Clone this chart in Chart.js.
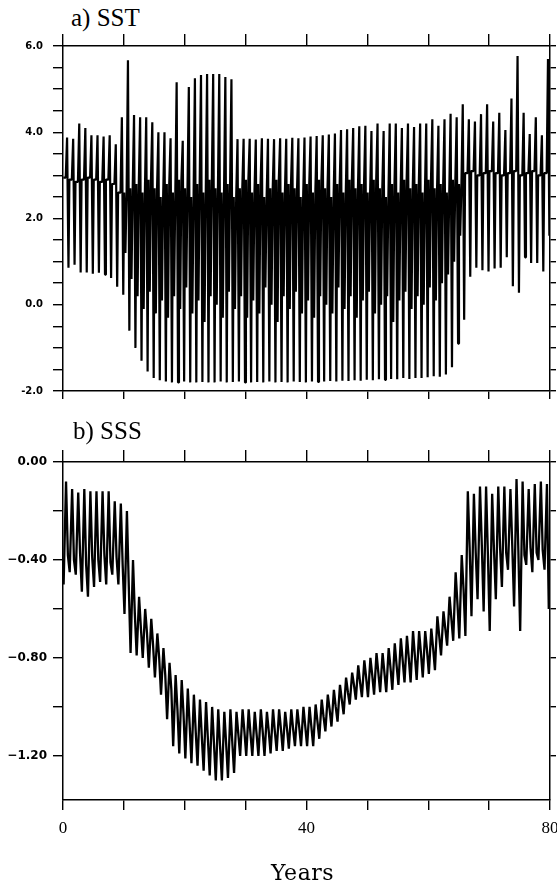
<!DOCTYPE html>
<html>
<head>
<meta charset="utf-8">
<script src="https://cdn.jsdelivr.net/npm/chart.js@4.4.1/dist/chart.umd.min.js"></script>
<style>
  body { margin: 0; background: #fff; width: 557px; height: 885px; position: relative; overflow: hidden; }
  canvas { position: absolute; left: 0; }
  .lbl { position: absolute; color: #000; white-space: nowrap; }
</style>
</head>
<body>
<div class="lbl" style="left:71px;top:5px;font:25px/1 'Liberation Serif'">a) SST</div>
<canvas id="sstChart" width="557" height="420" style="top:0"></canvas>
<div class="lbl" style="left:73px;top:418px;font:25px/1 'Liberation Serif'">b) SSS</div>
<canvas id="sssChart" width="557" height="465" style="top:420px"></canvas>
<div class="lbl" style="left:271px;top:862px;font:22px/1 'DejaVu Serif';letter-spacing:0.5px">Years</div>
<script>
// x axis ticks (years)
var yearTicks = [0, 10, 20, 30, 40, 50, 60, 70, 80];
var yearLabels = [0, 40, 80];

// y axis ticks
var sstTicks = [-2, -1.5, -1, -0.5, 0, 0.5, 1, 1.5, 2, 2.5, 3, 3.5, 4, 4.5, 5, 5.5, 6];
var sstLabels = [-2, 0, 2, 4, 6];
var sssTicks = [-1.2, -1.0, -0.8, -0.6, -0.4, -0.2, 0];
var sssLabels = [-1.2, -0.8, -0.4, 0];

// SST: yearly summer peak and winter trough
var sstHigh = [3.88, 3.85, 4.2, 4.1, 3.93, 3.93, 3.9, 3.93, 3.72, 4.35,
  5.67, 4.4, 4.35, 4.35, 4.23, 4.0, 4.0, 3.86, 5.16, 3.8,
  5.05, 5.25, 5.33, 5.35, 5.35, 5.35, 5.28, 5.23, 3.84, 3.85,
  3.85, 3.83, 3.86, 3.85, 3.84, 3.86, 3.85, 3.87, 3.86, 3.88,
  3.9, 3.91, 3.93, 3.95, 3.97, 4.05, 4.07, 4.1, 4.14, 4.15,
  4.03, 4.2, 4.03, 4.2, 4.2, 4.1, 4.2, 4.12, 4.2, 4.2,
  4.3, 4.15, 4.3, 4.43, 4.35, 4.65, 4.3, 4.25, 4.42, 4.65,
  4.25, 4.45, 4.05, 4.78, 5.77, 4.45, 3.96, 4.35, 3.93, 5.7];
var sstLow = [0.86, 0.93, 0.75, 0.75, 0.72, 0.74, 0.7, 0.62, 0.42, 0.23,
  -0.6, -1.0, -1.3, -1.55, -1.7, -1.75, -1.78, -1.8, -1.8, -1.78,
  -1.8, -1.8, -1.79, -1.8, -1.8, -1.78, -1.8, -1.79, -1.78, -1.8,
  -1.8, -1.79, -1.8, -1.78, -1.8, -1.79, -1.8, -1.78, -1.79, -1.8,
  -1.78, -1.79, -1.78, -1.77, -1.78, -1.76, -1.77, -1.75, -1.76, -1.74,
  -1.75, -1.73, -1.74, -1.72, -1.73, -1.7, -1.72, -1.7, -1.7, -1.68,
  -1.66, -1.67, -1.62, -1.45, -0.9, -0.35, 0.65, 0.86, 0.8, 0.77,
  0.84, 0.86, 1.1, 0.43, 0.28, 1.1, 0.97, 0.97, 0.77, 1.6];
// spring level and the dip inside it
var sstBase = [2.95, 2.9, 2.85, 2.9, 2.95, 2.9, 2.85, 2.9, 2.8, 2.6,
  2.6, 2.7, 2.8, 2.6, 2.9, 2.7, 2.5, 2.8, 2.6, 2.9,
  2.7, 2.5, 2.8, 2.6, 2.9, 2.7, 2.6, 2.8, 2.5, 2.7,
  2.9, 2.6, 2.8, 2.5, 2.7, 2.9, 2.6, 2.8, 2.7, 2.5,
  2.8, 2.6, 2.9, 2.7, 2.5, 2.8, 2.6, 2.9, 2.7, 2.8,
  2.6, 2.9, 2.7, 2.5, 2.8, 2.6, 2.9, 2.7, 2.8, 2.6,
  2.9, 2.7, 2.8, 2.6, 2.9, 2.8, 3.05, 3.1, 3.0, 3.05,
  3.1, 3.05, 3.0, 3.05, 3.1, 3.0, 3.05, 3.1, 3.0, 3.05];
var sstDip = [2.95, 2.9, 2.85, 2.9, 2.95, 2.9, 2.85, 2.9, 2.8, 2.6,
  1.2, 0.6, 0.2, -0.1, 0.3, -0.2, 0.1, -0.3, 0.2, -0.1,
  0.4, -0.2, 0.1, -0.4, 0.2, 0.0, -0.3, 0.3, -0.1, 0.2,
  -0.3, 0.1, -0.2, 0.4, 0.0, -0.4, 0.2, -0.1, 0.3, -0.2,
  0.1, -0.3, 0.2, 0.0, -0.2, 0.4, -0.1, 0.2, -0.3, 0.1,
  0.3, -0.2, 0.0, 0.2, -0.4, 0.1, 0.3, -0.1, 0.2, 0.0,
  0.4, 0.1, 0.5, 0.7, 1.0, 1.6, 3.05, 3.1, 3.0, 3.05,
  3.1, 3.05, 3.0, 3.05, 3.1, 3.0, 3.05, 3.1, 3.0, 3.05];

// SSS: yearly trough, peak and the level it settles back to
var sssLow = [-0.5, -0.45, -0.46, -0.53, -0.55, -0.51, -0.49, -0.5, -0.46, -0.5,
  -0.62, -0.78, -0.79, -0.8, -0.84, -0.88, -0.95, -1.05, -1.16, -1.19,
  -1.21, -1.23, -1.24, -1.26, -1.28, -1.3, -1.3, -1.29, -1.27, -1.2,
  -1.2, -1.2, -1.2, -1.2, -1.19, -1.18, -1.18, -1.17, -1.16, -1.16,
  -1.16, -1.16, -1.13, -1.1, -1.08, -1.06, -1.03, -0.99, -0.97, -0.96,
  -0.96, -0.95, -0.94, -0.94, -0.93, -0.91, -0.9, -0.9, -0.89, -0.88,
  -0.865, -0.85, -0.79, -0.75, -0.73, -0.72, -0.71, -0.63, -0.56, -0.61,
  -0.69, -0.56, -0.51, -0.44, -0.59, -0.69, -0.42, -0.45, -0.4, -0.44];
var sssHigh = [-0.08, -0.11, -0.125, -0.11, -0.12, -0.12, -0.12, -0.12, -0.16, -0.17,
  -0.2, -0.4, -0.55, -0.6, -0.64, -0.7, -0.76, -0.82, -0.87, -0.89,
  -0.925, -0.95, -0.97, -0.98, -1.0, -1.01, -1.02, -1.01, -1.02, -1.01,
  -1.01, -1.02, -1.01, -1.02, -1.01, -1.01, -1.02, -1.01, -1.01, -1.0,
  -1.0, -0.99, -0.97, -0.95, -0.93, -0.91, -0.88, -0.86, -0.83, -0.81,
  -0.8, -0.78, -0.78, -0.76, -0.74, -0.72, -0.71, -0.69, -0.69, -0.69,
  -0.68, -0.63, -0.61, -0.55, -0.45, -0.38, -0.12, -0.13, -0.1, -0.1,
  -0.13, -0.1, -0.1, -0.11, -0.07, -0.08, -0.11, -0.09, -0.08, -0.09];
var sssMid = [-0.38, -0.4, -0.37, -0.42, -0.39, -0.4, -0.38, -0.41, -0.39, -0.42,
  -0.5, -0.62, -0.68, -0.7, -0.75, -0.8, -0.87, -0.93, -1.01, -1.03,
  -1.07, -1.1, -1.12, -1.13, -1.15, -1.16, -1.15, -1.14, -1.11, -1.1,
  -1.11, -1.11, -1.1, -1.1, -1.1, -1.09, -1.09, -1.09, -1.08, -1.08,
  -1.08, -1.06, -1.04, -1.01, -1.0, -0.97, -0.94, -0.91, -0.9, -0.88,
  -0.87, -0.86, -0.86, -0.84, -0.83, -0.81, -0.8, -0.79, -0.78, -0.77,
  -0.76, -0.71, -0.68, -0.64, -0.58, -0.52, -0.35, -0.37, -0.34, -0.38,
  -0.36, -0.35, -0.37, -0.34, -0.36, -0.38, -0.35, -0.37, -0.36, -0.6];

// each model year: spring level with its dip, summer peak, winter trough
var sstPoints = [];
sstHigh.forEach(function (h, i) {
  sstPoints.push({ x: i + 0.05, y: sstBase[i] });
  sstPoints.push({ x: i + 0.25, y: sstDip[i] });
  sstPoints.push({ x: i + 0.45, y: sstBase[i] });
  sstPoints.push({ x: i + 0.67, y: h });
  sstPoints.push({ x: i + 0.9, y: sstLow[i] });
});

var sssPoints = [];
sssHigh.forEach(function (h, i) {
  sssPoints.push({ x: i + 0.1, y: sssLow[i] });
  sssPoints.push({ x: i + 0.5, y: h });
  sssPoints.push({ x: i + 0.8, y: sssMid[i] });
});

var black = '#000';
var tickFont = { family: 'DejaVu Sans', weight: 'bold', size: 10 };

function near(list, v) {
  return list.some(function (t) { return Math.abs(t - v) < 1e-6; });
}

function xAxis(pos, boxH, tickLen, labels) {
  return {
    type: 'linear', position: pos, min: 0, max: 80,
    afterBuildTicks: function (s) { s.ticks = yearTicks.map(function (v) { return { value: v }; }); },
    ticks: {
      display: !!labels, autoSkip: false, maxRotation: 0, padding: 8, color: black,
      font: { family: 'Liberation Serif', size: 17 },
      callback: function (v) { return labels && labels.indexOf(v) >= 0 ? String(v) : ''; }
    },
    grid: { drawOnChartArea: false, tickLength: tickLen, color: black, lineWidth: 1.4 },
    border: { color: black, width: 1.5 },
    afterFit: function (s) { s.height = boxH; s.paddingLeft = 0; s.paddingRight = 0; }
  };
}

function yAxis(pos, min, max, ticks, labels, fmt, font, pad) {
  return {
    type: 'linear', position: pos, min: min, max: max,
    afterBuildTicks: function (s) { s.ticks = ticks.map(function (v) { return { value: v }; }); },
    ticks: {
      display: !!labels, autoSkip: false, padding: pad, color: black, font: font,
      callback: function (v) { return labels && near(labels, v) ? fmt(v) : ''; }
    },
    grid: { drawOnChartArea: false, tickLength: pos === 'left' ? 10 : 6, color: black, lineWidth: 1.4 },
    border: { color: black, width: 1.5 },
    afterFit: function (s) { s.width = pos === 'left' ? 63 : 7; s.paddingTop = 0; s.paddingBottom = 0; }
  };
}

function lineChart(id, points, width, scales) {
  return new Chart(document.getElementById(id).getContext('2d'), {
    type: 'line',
    data: {
      datasets: [{
        data: points, xAxisID: 'x', yAxisID: 'y',
        borderColor: black, borderWidth: width, borderJoinStyle: 'bevel',
        pointRadius: 0, tension: 0, fill: false
      }]
    },
    options: {
      responsive: false, animation: false, devicePixelRatio: 1,
      layout: { padding: 0 },
      plugins: { legend: { display: false }, tooltip: { enabled: false } },
      scales: scales
    }
  });
}

lineChart('sstChart', sstPoints, 2.2, {
  x: xAxis('bottom', 29, 8, null),
  xTop: xAxis('top', 46, 12, null),
  y: yAxis('left', -2, 6, sstTicks, sstLabels, function (v) { return v.toFixed(1); }, tickFont, 10),
  yRight: yAxis('right', -2, 6, sstTicks, null, null, tickFont, 0)
});

var sssFont = { family: 'DejaVu Sans', weight: 'bold', size: 12 };
lineChart('sssChart', sssPoints, 2.3, {
  x: xAxis('bottom', 85, 10, yearLabels),
  xTop: xAxis('top', 42, 12, null),
  y: yAxis('left', -1.38, 0, sssTicks, sssLabels, function (v) {
    return v < 0 ? '\u2212' + Math.abs(v).toFixed(2) : v.toFixed(2);
  }, sssFont, 6),
  yRight: yAxis('right', -1.38, 0, sssTicks, null, null, sssFont, 0)
});
</script>
</body>
</html>
